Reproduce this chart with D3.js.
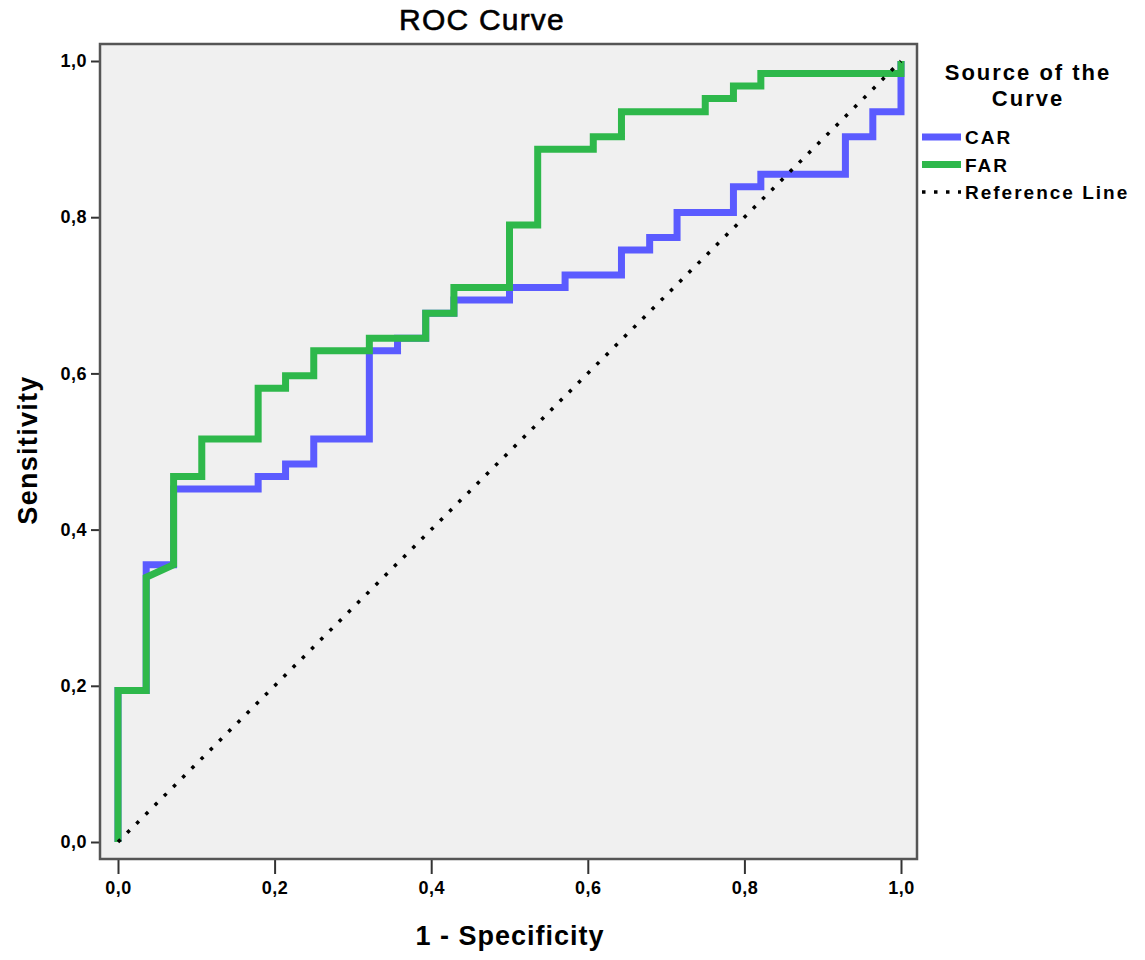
<!DOCTYPE html>
<html>
<head>
<meta charset="utf-8">
<script src="https://cdn.jsdelivr.net/npm/d3@7"></script>
<style>
body { margin: 0; background: #fff; }
</style>
</head>
<body>
<script>
// ROC curve: vertices of the step curves
var carX = [0, 0, 0.036, 0.036, 0.071, 0.071, 0.179, 0.179, 0.214, 0.214, 0.25, 0.25, 0.321, 0.321, 0.357, 0.357, 0.393, 0.393, 0.429, 0.429, 0.5, 0.5, 0.571, 0.571, 0.643, 0.643, 0.679, 0.679, 0.714, 0.714, 0.786, 0.786, 0.821, 0.821, 0.929, 0.929, 0.964, 0.964, 1, 1];
var carY = [0, 0.194, 0.194, 0.355, 0.355, 0.452, 0.452, 0.468, 0.468, 0.484, 0.484, 0.516, 0.516, 0.629, 0.629, 0.645, 0.645, 0.677, 0.677, 0.694, 0.694, 0.710, 0.710, 0.726, 0.726, 0.758, 0.758, 0.774, 0.774, 0.806, 0.806, 0.839, 0.839, 0.855, 0.855, 0.903, 0.903, 0.935, 0.935, 1];

var farX = [0, 0, 0.036, 0.036, 0.071, 0.071, 0.107, 0.107, 0.179, 0.179, 0.214, 0.214, 0.25, 0.25, 0.321, 0.321, 0.393, 0.393, 0.429, 0.429, 0.5, 0.5, 0.536, 0.536, 0.607, 0.607, 0.643, 0.643, 0.75, 0.75, 0.786, 0.786, 0.821, 0.821, 1, 1];
var farY = [0, 0.194, 0.194, 0.339, 0.355, 0.468, 0.468, 0.516, 0.516, 0.581, 0.581, 0.597, 0.597, 0.629, 0.629, 0.645, 0.645, 0.677, 0.677, 0.710, 0.710, 0.790, 0.790, 0.887, 0.887, 0.903, 0.903, 0.935, 0.935, 0.952, 0.952, 0.968, 0.968, 0.984, 0.984, 1];

var refX = [0, 1];
var refY = [0, 1];

var ticks = [0, 0.2, 0.4, 0.6, 0.8, 1.0];
var seriesNames = ["CAR", "FAR", "Reference Line"];
var seriesColors = ["#5b5bff", "#2eb84b", "#000"];

//drawing vars
var w = 1145, h = 960;
var frame = {left: 100, top: 44, right: 917, bottom: 859};

var xScale = d3.scaleLinear()
	.domain([0, 1])
	.range([118, 901]);

var yScale = d3.scaleLinear()
	.domain([0, 1])
	.range([842, 61]);

var svg = d3.select("body")
	.append("svg")
	.attr("width", w)
	.attr("height", h);

var font = "'Liberation Sans', Arial, sans-serif";

//plot background
svg.append("rect")
	.attr("x", frame.left)
	.attr("y", frame.top)
	.attr("width", frame.right - frame.left)
	.attr("height", frame.bottom - frame.top)
	.attr("fill", "#f0f0f0");

//title
svg.append("text")
	.text("ROC Curve")
	.attr("x", 482)
	.attr("y", 30)
	.attr("text-anchor", "middle")
	.attr("font-size", "30px")
	.attr("letter-spacing", "1.2px")
	.attr("font-family", font)
	.attr("fill", "#000")
	.attr("stroke", "#000")
	.attr("stroke-width", 0.6);

//axes
var fmt = function(d){ return d3.format(".1f")(d).replace(".", ","); };

var xAxis = d3.axisBottom(xScale)
	.tickValues(ticks)
	.tickSize(15)
	.tickPadding(7)
	.tickFormat(fmt);

var gx = svg.append("g")
	.attr("transform", "translate(0," + frame.bottom + ")")
	.call(xAxis);

var yAxis = d3.axisLeft(yScale)
	.tickValues(ticks)
	.tickSize(9)
	.tickPadding(4)
	.tickFormat(fmt);

var gy = svg.append("g")
	.attr("transform", "translate(" + frame.left + ",0)")
	.call(yAxis);

[gx, gy].forEach(function(g){
	g.select(".domain").remove();
	g.selectAll(".tick line").attr("stroke", "#333").attr("stroke-width", 2);
	g.selectAll(".tick text")
		.attr("font-family", font)
		.attr("font-weight", "bold")
		.attr("font-size", "18px")
		.attr("letter-spacing", "0.5px")
		.attr("fill", "#000");
});

//curves
var line = d3.line()
	.x(function(d){ return xScale(d[0]); })
	.y(function(d){ return yScale(d[1]); });

function pts(xs, ys) {
	return xs.map(function(x, i){ return [x, ys[i]]; });
}

svg.append("path")
	.attr("d", line(pts(carX, carY)))
	.attr("fill", "none")
	.attr("stroke", seriesColors[0])
	.attr("stroke-width", 7)
	.attr("stroke-linejoin", "miter");

svg.append("path")
	.attr("d", line(pts(farX, farY)))
	.attr("fill", "none")
	.attr("stroke", seriesColors[1])
	.attr("stroke-width", 7)
	.attr("stroke-linejoin", "miter");

svg.append("path")
	.attr("d", line(pts(refX, refY)))
	.attr("fill", "none")
	.attr("stroke", seriesColors[2])
	.attr("stroke-width", 3.5)
	.attr("stroke-dasharray", "3.5,9.5");

//frame on top
svg.append("rect")
	.attr("x", frame.left)
	.attr("y", frame.top)
	.attr("width", frame.right - frame.left)
	.attr("height", frame.bottom - frame.top)
	.attr("fill", "none")
	.attr("stroke", "#555")
	.attr("stroke-width", 2.5);

//axis labels
svg.append("text")
	.text("1 - Specificity")
	.attr("x", 510)
	.attr("y", 945)
	.attr("text-anchor", "middle")
	.attr("font-size", "27px")
	.attr("font-weight", "bold")
	.attr("letter-spacing", "1px")
	.attr("font-family", font)
	.attr("fill", "#000");

svg.append("text")
	.text("Sensitivity")
	.attr("transform", "translate(37,450) rotate(-90)")
	.attr("text-anchor", "middle")
	.attr("font-size", "27px")
	.attr("font-weight", "bold")
	.attr("letter-spacing", "1.3px")
	.attr("font-family", font)
	.attr("fill", "#000");

//legend
var lg = svg.append("g");

lg.append("text")
	.attr("x", 1028)
	.attr("y", 80)
	.attr("text-anchor", "middle")
	.attr("font-size", "22px")
	.attr("font-weight", "bold")
	.attr("letter-spacing", "2px")
	.attr("font-family", font)
	.attr("fill", "#000")
	.selectAll("tspan")
	.data(["Source of the", "Curve"])
	.enter()
	.append("tspan")
	.attr("x", 1028)
	.attr("dy", function(d, i){ return i ? 26 : 0; })
	.text(function(d){ return d; });

var items = lg.selectAll(".item")
	.data(seriesNames)
	.enter()
	.append("g")
	.attr("class", "item")
	.attr("transform", function(d, i){ return "translate(0," + (137 + i * 27.5) + ")"; });

items.append("line")
	.attr("x1", 922)
	.attr("x2", 961)
	.attr("stroke", function(d, i){ return seriesColors[i]; })
	.attr("stroke-width", function(d, i){ return i < 2 ? 7 : 3.5; })
	.attr("stroke-dasharray", function(d, i){ return i < 2 ? null : "3.5,8.5"; });

items.append("text")
	.text(function(d){ return d; })
	.attr("x", 965)
	.attr("y", 7)
	.attr("font-size", "19px")
	.attr("font-weight", "bold")
	.attr("letter-spacing", "2px")
	.attr("font-family", font)
	.attr("fill", "#000");
</script>
</body>
</html>
